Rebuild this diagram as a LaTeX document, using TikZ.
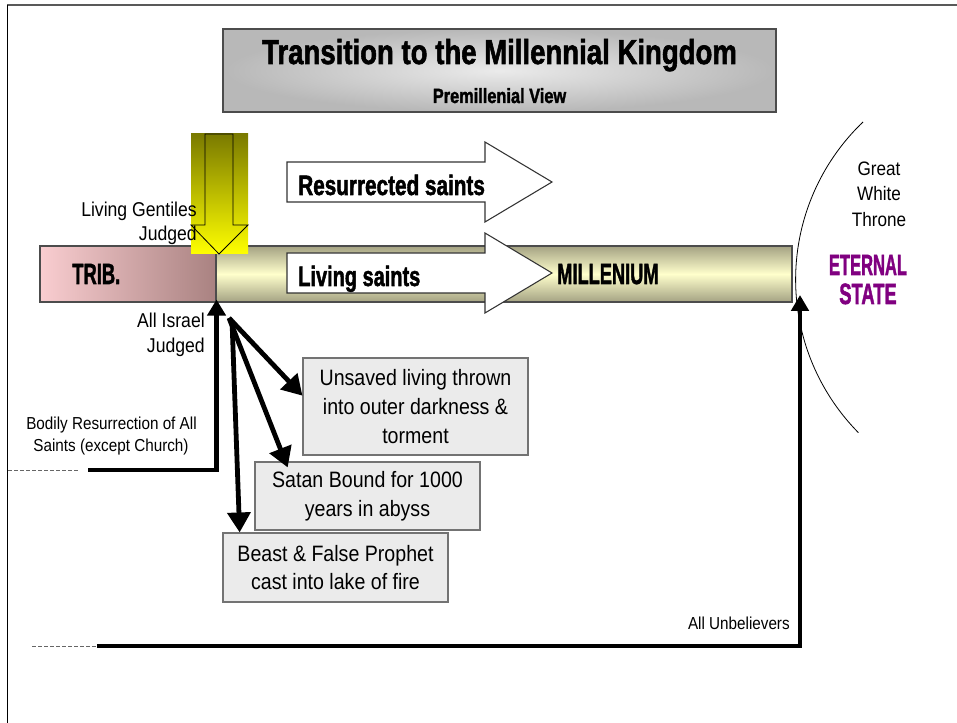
\documentclass[tikz,border=0pt]{standalone}
\usepackage{graphicx}
\usepackage{fontspec}
\setmainfont{Liberation Sans}[FakeStretch=0.88]
\newfontfamily\impfont{Liberation Sans}[FakeBold=2]
\usetikzlibrary{arrows.meta,calc}
\newcommand\imp[3]{\resizebox{#1}{\height}{\fontsize{#2}{#2}\selectfont\impfont\bfseries #3}}
\definecolor{boxgray}{HTML}{EBEBEB}
\definecolor{pinkL}{HTML}{F9CDD0}
\definecolor{mauve}{HTML}{A98281}
\definecolor{oliveg}{HTML}{A4A283}
\definecolor{cream}{HTML}{FFFFCC}
\definecolor{ylwdark}{HTML}{7A7A00}
\definecolor{ylwmid}{HTML}{D8D800}
\definecolor{purp}{HTML}{800080}
\tikzset{
  lbl/.style={inner sep=0pt},
  lblA/.style={lbl, font=\fontsize{15}{18}\selectfont},
  lblB/.style={lbl, font=\fontsize{13}{16}\selectfont},
  lblC/.style={lbl, font=\fontsize{14.6}{18}\selectfont},
  gbox/.style={draw=black!55, fill=boxgray, line width=0.8pt, align=center, inner sep=0pt,
               minimum width=168.75pt, font=\fontsize{16.7}{21.5}\selectfont},
  heavy/.style={line width=3.6pt, -{Triangle[length=15pt,width=17pt]}},
  heavyS/.style={line width=3.6pt, -{Triangle[length=12pt,width=13.5pt]}},
  dashline/.style={draw=black!60, line width=0.6pt, dash pattern=on 3pt off 1.5pt},
  blockarrow/.style={fill=white, draw=black!80, line width=0.8pt}
}
\begin{document}
\begin{tikzpicture}[x=0.75pt,y=-0.75pt]
\useasboundingbox (0,0) rectangle (957,723);
% frame
\draw[line width=1.5pt, draw=black!65] (7,5.5) -- (957,5.5);
\draw[line width=1.2pt] (7.5,5) -- (7.5,723);

% title
\node[draw=black!70, line width=0.8pt, inner color=black!8, outer color=black!28,
      minimum width=414.75pt, minimum height=62.25pt, inner sep=0pt] (titlebox) at (499.5,70.5) {};
\node[lbl, anchor=base] (title) at (499.5,64) {\imp{356pt}{26}{Transition to the Millennial Kingdom}};
\node[lbl, anchor=base] (subtitle) at (499.5,103) {\imp{100pt}{15.5}{Premillenial View}};

% bars
\node[draw=black!70, line width=0.8pt, left color=pinkL, right color=mauve,
      minimum width=132pt, minimum height=42pt, inner sep=0pt] (trib) at (128,274) {};
\node[draw=black!70, line width=0.8pt, top color=oliveg, bottom color=oliveg, middle color=cream,
      minimum width=432pt, minimum height=42pt, inner sep=0pt] (mill) at (504,274) {};
\node[lbl, anchor=base west] (tribtxt) at (72,284) {\imp{36pt}{22}{TRIB.}};

% great white throne arc
\draw[line width=0.6pt] (863,122) arc[start angle=226.3, end angle=135.4, radius=218];
\node[lblC, anchor=base] (gwt1) at (879,176) {Great};
\node[lblC, anchor=base] (gwt2) at (879,201) {White};
\node[lblC, anchor=base] (gwt3) at (879,227) {Throne};
\node[lbl, anchor=base, text=purp] (et1) at (868,275) {\imp{58.5pt}{22}{ETERNAL}};
\node[lbl, anchor=base, text=purp] (et2) at (868,304) {\imp{43pt}{22}{STATE}};

% yellow judgement arrow
\shade[top color=ylwdark, middle color=ylwmid, bottom color=yellow] (191,134) rectangle (248,254);
\draw[line width=0.6pt] (205,134) -- (233,134) -- (233,225) -- (248,225) -- (219,254) -- (191,225) -- (205,225) -- cycle;

% block arrows
\draw[blockarrow] (287,162) -- (485,162) -- (485,142) -- (552,182) -- (485,222) -- (485,202) -- (287,202) -- cycle;
\draw[blockarrow] (287,253) -- (485,253) -- (485,233) -- (552,273) -- (485,313) -- (485,293) -- (287,293) -- cycle;
\node[lbl, anchor=base west] (res) at (298,195) {\imp{140pt}{21}{Resurrected saints}};
\node[lbl, anchor=base west] (liv) at (298,286) {\imp{91.5pt}{21}{Living saints}};
\node[lbl, anchor=base west] (milltxt) at (557,284) {\imp{76pt}{22}{MILLENIUM}};

% labels
\node[lblA, anchor=base east] (lg1) at (197,217) {Living Gentiles};
\node[lblA, anchor=base east] (lg2) at (197,241) {Judged};
\node[lblA, anchor=base east] (ai1) at (205,328) {All Israel};
\node[lblA, anchor=base east] (ai2) at (205,353) {Judged};
\node[lblB, anchor=base] (br1) at (111.5,430) {Bodily Resurrection of All};
\node[lblB, anchor=base] (br2) at (111,452) {Saints (except Church)};
\node[lblB, anchor=base east] (unb) at (790,629) {All Unbelievers};

% outcome boxes
\node[gbox, minimum height=72.75pt] (unsaved) at (415.5,406.5) {Unsaved living thrown\\into outer darkness \&\\torment};
\node[gbox, minimum height=51pt] (satan) at (367.5,496) {Satan Bound for 1000\\years in abyss};
\node[gbox, minimum height=51.75pt] (beast) at (335.5,567.5) {Beast \& False Prophet\\cast into lake of fire};

% connectors
\coordinate (d1a) at (8,470);
\coordinate (d1b) at (80,470);
\coordinate (r1) at (88,470);
\draw[dashline] (d1a) -- (d1b);
\draw[heavyS] (r1) -| ($(trib.south east)+(0,-3)$);

\coordinate (d2a) at (32,646);
\coordinate (d2b) at (96,646);
\coordinate (r2) at (97,646);
\draw[dashline] (d2a) -- (d2b);
\draw[line width=3.2pt, -{Triangle[length=12pt,width=13pt]}] (r2) -| (800,295);

\coordinate (fork) at (229,318);
\draw[heavy] (fork) -- ($(unsaved.north west)!0.39!(unsaved.south west)$);
\draw[heavy] (fork) -- ($(satan.north west)!0.147!(satan.north east)+(0,6)$);
\draw[heavy] ($(fork)+(3,2)$) -- ($(beast.north west)!0.076!(beast.north east)$);
\end{tikzpicture}
\end{document}
